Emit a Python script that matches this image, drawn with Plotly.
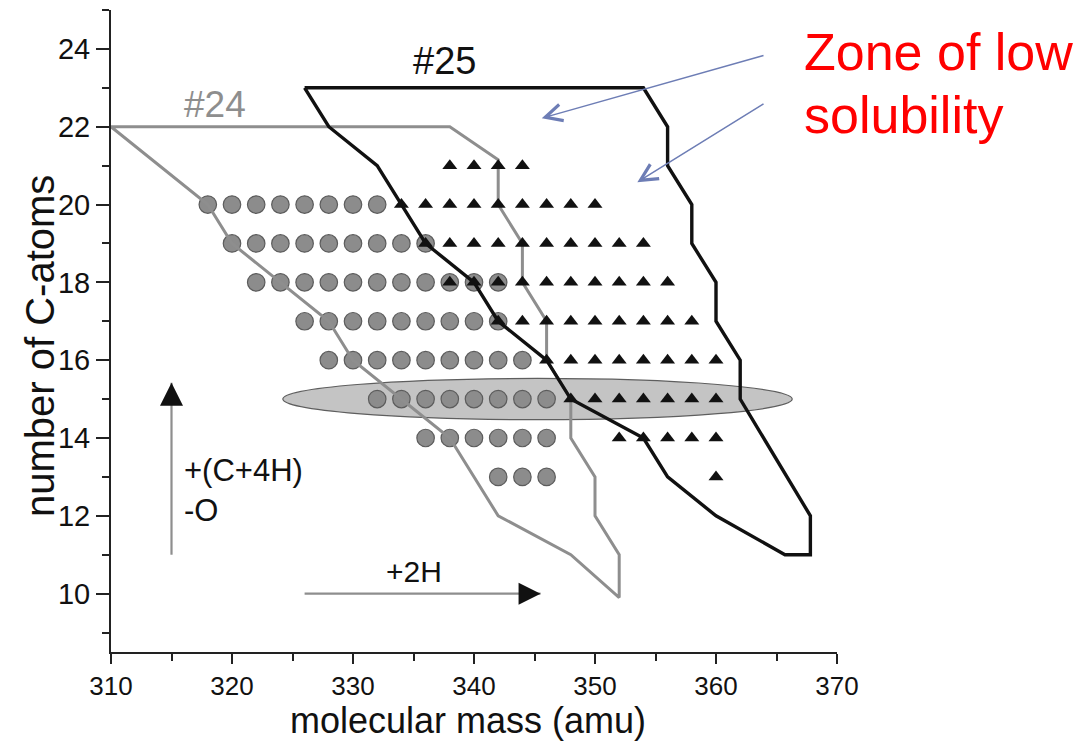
import plotly.graph_objects as go

# ---- data -------------------------------------------------------------
# molecular masses (amu) of the detected species, one list per carbon number
circle_mass_c20 = [318, 320, 322, 324, 326, 328, 330, 332]
circle_mass_c19 = [320, 322, 324, 326, 328, 330, 332, 334, 336]
circle_mass_c18 = [322, 324, 326, 328, 330, 332, 334, 336, 338, 340, 342]
circle_mass_c17 = [326, 328, 330, 332, 334, 336, 338, 340, 342]
circle_mass_c16 = [328, 330, 332, 334, 336, 338, 340, 342, 344]
circle_mass_c15 = [332, 334, 336, 338, 340, 342, 344, 346]
circle_mass_c14 = [336, 338, 340, 342, 344, 346]
circle_mass_c13 = [342, 344, 346]

triangle_mass_c21 = [338, 340, 342, 344]
triangle_mass_c20 = [334, 336, 338, 340, 342, 344, 346, 348, 350]
triangle_mass_c19 = [336, 338, 340, 342, 344, 346, 348, 350, 352, 354]
triangle_mass_c18 = [338, 340, 342, 344, 346, 348, 350, 352, 354, 356]
triangle_mass_c17 = [342, 344, 346, 348, 350, 352, 354, 356, 358]
triangle_mass_c16 = [346, 348, 350, 352, 354, 356, 358, 360]
triangle_mass_c15 = [348, 350, 352, 354, 356, 358, 360]
triangle_mass_c14 = [352, 354, 356, 358, 360]
triangle_mass_c13 = [360]

# outlines of the two sample domains
line24_mass = [310, 338, 342, 342, 344, 344, 346, 346, 348, 348, 350, 350, 352,
               352, 348, 342, 338, 334, 330, 328, 324, 320, 318, 310]
line24_carbon = [22, 22, 21.15, 20, 19, 18, 17, 16, 15, 14, 13, 12, 11,
                 9.9, 11, 12, 14, 15, 16, 17, 18, 19, 20, 22]
line25_mass = [326, 354, 356, 356, 358, 358, 360, 360, 362, 362, 367.8, 367.8,
               365.7, 360, 356, 354, 348, 346, 342, 340, 336, 334, 332, 328, 326]
line25_carbon = [23, 23, 22, 21, 20, 19, 18, 17, 16, 15, 12, 11,
                 11, 12, 13, 14, 15, 16, 17, 18, 19, 20, 21, 22, 23]

# highlighted C15 band
band_mass = [324.2, 366.3]
band_carbon = [14.47, 15.53]

# direction arrows (tail, tip)
arrow_c_mass = [315, 315]
arrow_c_carbon = [11.0, 15.42]
arrow_h_mass = [326, 345.5]
arrow_h_carbon = [10, 10]

# pointers to the low-solubility zone (tail mass, tail C, tip mass, tip C)
pointer_1 = [364.05, 23.84, 345.6, 22.22]
pointer_2 = [364.05, 22.61, 353.5, 20.575]

FONT = "Liberation Sans, Arial, sans-serif"


def rows(d):
    xs, ys = [], []
    for c, masses in d.items():
        xs += masses
        ys += [c] * len(masses)
    return xs, ys


circ_x, circ_y = rows({20: circle_mass_c20, 19: circle_mass_c19, 18: circle_mass_c18,
                       17: circle_mass_c17, 16: circle_mass_c16, 15: circle_mass_c15,
                       14: circle_mass_c14, 13: circle_mass_c13})
tri_x, tri_y = rows({21: triangle_mass_c21, 20: triangle_mass_c20, 19: triangle_mass_c19,
                     18: triangle_mass_c18, 17: triangle_mass_c17, 16: triangle_mass_c16,
                     15: triangle_mass_c15, 14: triangle_mass_c14, 13: triangle_mass_c13})

fig = go.Figure()

fig.add_shape(type="circle", xref="x", yref="y", layer="below",
              x0=band_mass[0], x1=band_mass[1], y0=band_carbon[0], y1=band_carbon[1],
              fillcolor="#c4c4c4", line=dict(color="#5e5e5e", width=1.2))

fig.add_trace(go.Scatter(x=circ_x, y=circ_y, mode="markers", hoverinfo="skip",
                         marker=dict(symbol="circle", size=17.5, color="#8c8c8c",
                                     line=dict(color="#5c5c5c", width=1.2))))

fig.add_trace(go.Scatter(x=line24_mass, y=line24_carbon, mode="lines",
                         line=dict(color="#8e8e8e", width=3)))
fig.add_trace(go.Scatter(x=line25_mass, y=line25_carbon, mode="lines",
                         line=dict(color="#111111", width=3.4)))

fig.add_trace(go.Scatter(x=tri_x, y=tri_y, mode="markers",
                         marker=dict(symbol="triangle-up", size=13, color="#111111")))

# direction arrows: gray shaft with black head
fig.add_trace(go.Scatter(x=arrow_c_mass, y=arrow_c_carbon, mode="lines",
                         line=dict(color="#8e8e8e", width=2.2)))
fig.add_trace(go.Scatter(x=arrow_h_mass, y=arrow_h_carbon, mode="lines",
                         line=dict(color="#8e8e8e", width=2.2)))
fig.add_trace(go.Scatter(x=[arrow_c_mass[1]], y=[arrow_c_carbon[1]], mode="markers",
                         marker=dict(symbol="arrow-up", size=23, color="#111111")))
fig.add_trace(go.Scatter(x=[arrow_h_mass[1]], y=[arrow_h_carbon[1]], mode="markers",
                         marker=dict(symbol="arrow-right", size=22, color="#111111")))

for tx, ty, hx, hy in (pointer_1, pointer_2):
    fig.add_annotation(x=hx, y=hy, ax=tx, ay=ty, xref="x", yref="y", axref="x", ayref="y",
                       text="", showarrow=True, arrowhead=5, arrowsize=2.2,
                       arrowwidth=1.5, arrowcolor="#6d7db5")

texts = [
    dict(x=318.6, y=22.56, text="#24", font=dict(size=37, color="#8e8e8e")),
    dict(x=337.6, y=23.69, text="#25", font=dict(size=38, color="#111111")),
    dict(x=335.0, y=10.56, text="+2H", font=dict(size=30, color="#111111")),
    dict(x=315.9, y=12.65, text="+(C+4H)<br>-O", xanchor="left", align="left",
         font=dict(size=31, color="#111111")),
    dict(x=367.1, y=23.92, text="Zone of low", xanchor="left",
         font=dict(size=52, color="#ff0000")),
    dict(x=367.1, y=22.3, text="solubility", xanchor="left",
         font=dict(size=52, color="#ff0000")),
]
for t in texts:
    fig.add_annotation(xref="x", yref="y", showarrow=False,
                       xanchor=t.get("xanchor", "center"), yanchor="middle",
                       align=t.get("align", "center"),
                       x=t["x"], y=t["y"], text=t["text"],
                       font=dict(family=FONT, **t["font"]))

# axis titles
fig.add_annotation(xref="paper", yref="paper", x=0.4917, y=-0.107, showarrow=False,
                   text="molecular mass (amu)", xanchor="center", yanchor="middle",
                   font=dict(family=FONT, size=36, color="#111111"))
fig.add_annotation(xref="paper", yref="paper", x=-0.0978, y=0.4766, showarrow=False,
                   text="number of C-atoms", textangle=-90, xanchor="center", yanchor="middle",
                   font=dict(family=FONT, size=40, color="#111111"))

axis_common = dict(showgrid=False, zeroline=False, showline=True, linecolor="#222222",
                   linewidth=2, ticks="outside", tickcolor="#222222", tickwidth=2,
                   fixedrange=True)

fig.update_xaxes(range=[310, 370], dtick=10, tick0=310, ticklen=10,
                 tickfont=dict(family=FONT, size=26, color="#111111"),
                 minor=dict(dtick=5, ticks="outside", ticklen=7, tickcolor="#222222",
                            tickwidth=2, showgrid=False),
                 **axis_common)
fig.update_yaxes(range=[8.5, 25], dtick=2, tick0=0, ticklen=13,
                 tickfont=dict(family=FONT, size=29, color="#111111"),
                 minor=dict(dtick=1, ticks="outside", ticklen=7, tickcolor="#222222",
                            tickwidth=2, showgrid=False),
                 **axis_common)

fig.update_layout(width=1074, height=743, showlegend=False,
                  margin=dict(l=111, r=237, t=10, b=91),
                  plot_bgcolor="white", paper_bgcolor="white",
                  font=dict(family=FONT))

fig.write_html("out.html")
